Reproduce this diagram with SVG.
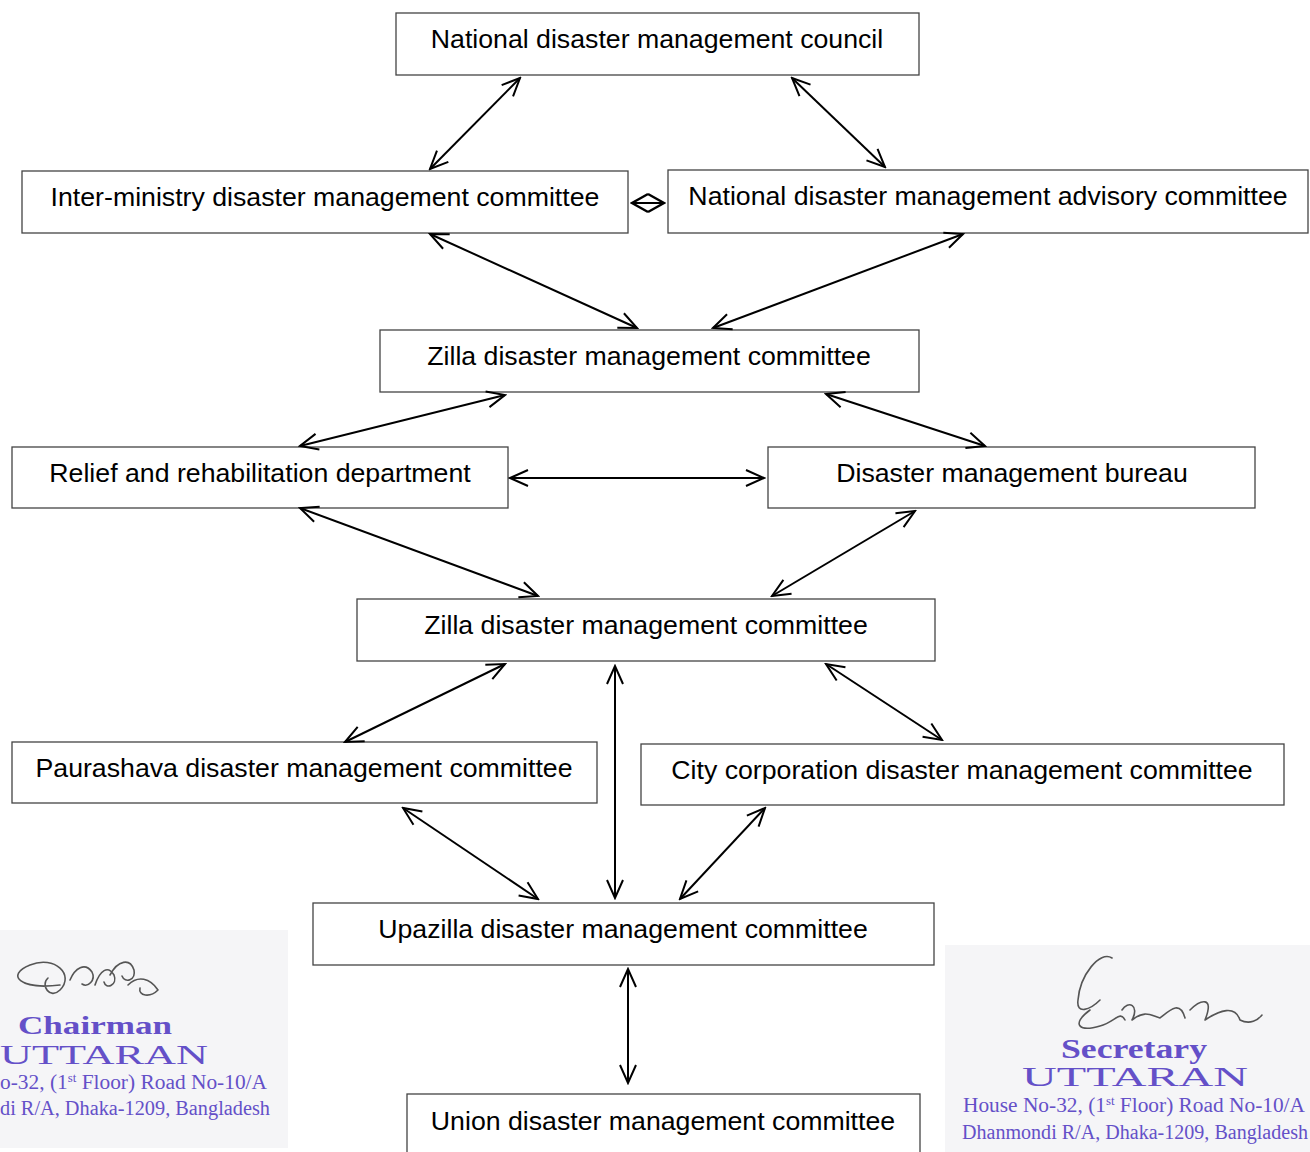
<svg xmlns="http://www.w3.org/2000/svg" width="1310" height="1152" viewBox="0 0 1310 1152">
<style>
.box{fill:#fff;stroke:#444;stroke-width:1.3}
.lbl{font-family:"Liberation Sans",Arial,sans-serif;font-size:26.7px;fill:#000;text-anchor:middle}
.con{stroke:#000;stroke-width:2;fill:none}
.stamp{font-family:"Liberation Serif","Times New Roman",serif;fill:#6450c8}
.sig{fill:none;stroke:#555;stroke-width:1.6;stroke-linecap:round;stroke-linejoin:round}
</style>
<defs>
<marker id="ah" viewBox="-22 -11 24 22" refX="0" refY="0" markerWidth="24" markerHeight="22" markerUnits="userSpaceOnUse" orient="auto-start-reverse">
<path d="M-18,-8 L0,0 L-18,8" fill="none" stroke="#000" stroke-width="2"/>
</marker>
<marker id="dm" viewBox="-18 -11 20 22" refX="0" refY="0" markerWidth="20" markerHeight="22" markerUnits="userSpaceOnUse" orient="auto-start-reverse">
<path d="M-16,-9 L0,0 L-16,9" fill="none" stroke="#000" stroke-width="2.4"/>
</marker>
</defs>
<rect width="1310" height="1152" fill="#fff"/>

<g id="stamp-left">
<rect x="0" y="930" width="288" height="218" fill="#f5f5f7"/>
<path class="sig" d="M60,985 C20,990 5,975 30,965 C55,955 75,975 60,990 C50,1000 40,985 48,978 M70,980 C75,968 85,962 92,972 C96,980 88,988 82,984 M95,985 C100,970 108,965 114,975 C118,985 106,990 104,982 M110,975 C118,960 130,958 134,970 C136,980 125,984 122,976 M128,985 C138,975 150,978 158,990 C150,998 138,996 140,988"/>
<text class="stamp" x="18" y="1034" font-size="26" font-weight="bold" textLength="154" lengthAdjust="spacingAndGlyphs">Chairman</text>
<text class="stamp" x="0" y="1064" font-size="27" textLength="208" lengthAdjust="spacingAndGlyphs">UTTARAN</text>
<text class="stamp" x="0" y="1089" font-size="20" textLength="267" lengthAdjust="spacingAndGlyphs">o-32, (1<tspan font-size="12" baseline-shift="super">st</tspan> Floor) Road No-10/A</text>
<text class="stamp" x="0" y="1115" font-size="20" textLength="270" lengthAdjust="spacingAndGlyphs">di R/A, Dhaka-1209, Bangladesh</text>
</g>

<g id="stamp-right">
<rect x="945" y="945" width="365" height="207" fill="#f5f5f7"/>
<path class="sig" d="M1112,958 C1100,950 1080,975 1078,1000 C1076,1015 1090,1010 1100,1000 M1090,1010 C1070,1025 1080,1032 1100,1026 C1115,1022 1120,1010 1125,1020 M1122,1010 C1128,1000 1140,1005 1132,1020 C1145,1010 1150,1015 1160,1018 C1170,1010 1180,1000 1185,1018 M1190,1010 C1200,1000 1215,995 1205,1020 C1220,1010 1235,1005 1240,1020 C1250,1025 1258,1020 1262,1015"/>
<text class="stamp" x="1061" y="1058" font-size="27" font-weight="bold" textLength="146" lengthAdjust="spacingAndGlyphs">Secretary</text>
<text class="stamp" x="1022" y="1086" font-size="28" textLength="226" lengthAdjust="spacingAndGlyphs">UTTARAN</text>
<text class="stamp" x="963" y="1112" font-size="20" textLength="342" lengthAdjust="spacingAndGlyphs">House No-32, (1<tspan font-size="12" baseline-shift="super">st</tspan> Floor) Road No-10/A</text>
<text class="stamp" x="962" y="1139" font-size="20" textLength="346" lengthAdjust="spacingAndGlyphs">Dhanmondi R/A, Dhaka-1209, Bangladesh</text>
</g>

<g id="n1"><rect class="box" x="396" y="13" width="523" height="62"/><text class="lbl" x="657" y="48">National disaster management council</text></g>
<g id="n2"><rect class="box" x="22" y="171" width="606" height="62"/><text class="lbl" x="325" y="206">Inter-ministry disaster management committee</text></g>
<g id="n3"><rect class="box" x="668" y="170" width="640" height="63"/><text class="lbl" x="988" y="205">National disaster management advisory committee</text></g>
<g id="n4"><rect class="box" x="380" y="330" width="539" height="62"/><text class="lbl" x="649" y="365">Zilla disaster management committee</text></g>
<g id="n5"><rect class="box" x="12" y="447" width="496" height="61"/><text class="lbl" x="260" y="482">Relief and rehabilitation department</text></g>
<g id="n6"><rect class="box" x="768" y="447" width="487" height="61"/><text class="lbl" x="1012" y="482">Disaster management bureau</text></g>
<g id="n7"><rect class="box" x="357" y="599" width="578" height="62"/><text class="lbl" x="646" y="634">Zilla disaster management committee</text></g>
<g id="n8"><rect class="box" x="12" y="742" width="585" height="61"/><text class="lbl" x="304" y="777">Paurashava disaster management committee</text></g>
<g id="n9"><rect class="box" x="641" y="744" width="643" height="61"/><text class="lbl" x="962" y="779">City corporation disaster management committee</text></g>
<g id="n10"><rect class="box" x="313" y="903" width="621" height="62"/><text class="lbl" x="623" y="938">Upazilla disaster management committee</text></g>
<g id="n11"><rect class="box" x="407" y="1094" width="513" height="70"/><text class="lbl" x="663" y="1130">Union disaster management committee</text></g>

<g id="connectors">
<line class="con" x1="520" y1="78" x2="430" y2="169" marker-start="url(#ah)" marker-end="url(#ah)"/>
<line class="con" x1="792" y1="78" x2="885" y2="167" marker-start="url(#ah)" marker-end="url(#ah)"/>
<line class="con" x1="632" y1="203" x2="664" y2="203" marker-start="url(#dm)" marker-end="url(#dm)"/>
<line class="con" x1="430" y1="234" x2="637" y2="328" marker-start="url(#ah)" marker-end="url(#ah)"/>
<line class="con" x1="963" y1="234" x2="713" y2="328" marker-start="url(#ah)" marker-end="url(#ah)"/>
<line class="con" x1="505" y1="395" x2="300" y2="446" marker-start="url(#ah)" marker-end="url(#ah)"/>
<line class="con" x1="826" y1="394" x2="985" y2="446" marker-start="url(#ah)" marker-end="url(#ah)"/>
<line class="con" x1="510" y1="478" x2="764" y2="478" marker-start="url(#ah)" marker-end="url(#ah)"/>
<line class="con" x1="300" y1="508" x2="538" y2="596" marker-start="url(#ah)" marker-end="url(#ah)"/>
<line class="con" x1="915" y1="511" x2="772" y2="596" marker-start="url(#ah)" marker-end="url(#ah)"/>
<line class="con" x1="505" y1="664" x2="345" y2="742" marker-start="url(#ah)" marker-end="url(#ah)"/>
<line class="con" x1="826" y1="664" x2="942" y2="740" marker-start="url(#ah)" marker-end="url(#ah)"/>
<line class="con" x1="615" y1="666" x2="615" y2="898" marker-start="url(#ah)" marker-end="url(#ah)"/>
<line class="con" x1="403" y1="808" x2="538" y2="899" marker-start="url(#ah)" marker-end="url(#ah)"/>
<line class="con" x1="765" y1="808" x2="680" y2="899" marker-start="url(#ah)" marker-end="url(#ah)"/>
<line class="con" x1="628" y1="969" x2="628" y2="1083" marker-start="url(#ah)" marker-end="url(#ah)"/>
</g>
</svg>
